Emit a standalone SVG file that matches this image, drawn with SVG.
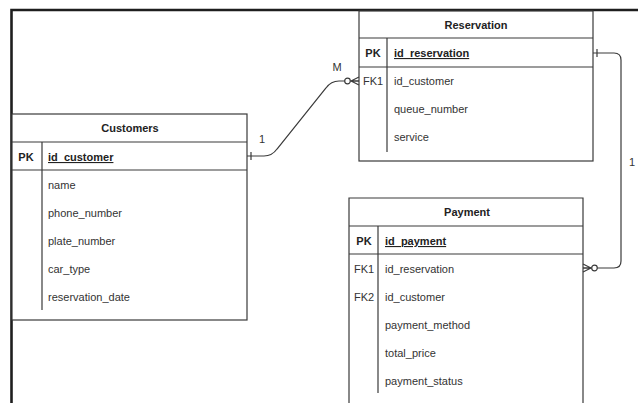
<svg xmlns="http://www.w3.org/2000/svg" width="638" height="403" viewBox="0 0 638 403">
  <style>
    .box { fill: #ffffff; stroke: #3a3a3a; stroke-width: 1.2; }
    .rule { stroke: #3a3a3a; stroke-width: 1.2; fill: none; }
    .frame { stroke: #1e1e1e; stroke-width: 2.6; fill: none; }
    .title { font-family: "Liberation Sans", Arial, sans-serif; font-size: 11px; font-weight: bold; fill: #222; text-anchor: middle; }
    .key { font-family: "Liberation Sans", Arial, sans-serif; font-size: 11px; font-weight: bold; fill: #222; text-anchor: middle; }
    .fk { font-family: "Liberation Sans", Arial, sans-serif; font-size: 11px; fill: #333; text-anchor: middle; }
    .pk { font-family: "Liberation Sans", Arial, sans-serif; font-size: 11px; font-weight: bold; fill: #222; text-decoration: underline; }
    .attr { font-family: "Liberation Sans", Arial, sans-serif; font-size: 11px; fill: #333; }
    .card { font-family: "Liberation Sans", Arial, sans-serif; font-size: 11px; fill: #333; text-anchor: middle; }
    .edge { fill: none; stroke: #3a3a3a; stroke-width: 1.2; }
  </style>
  <defs>
    <!-- "exactly one" tick, placed just outside the entity -->
    <marker id="one" markerUnits="userSpaceOnUse" markerWidth="20" markerHeight="20" viewBox="-10 -10 20 20" refX="0" refY="0" orient="auto" overflow="visible">
      <path d="M4,-4 L4,4" stroke="#3a3a3a" stroke-width="1.2" fill="none"/>
    </marker>
    <!-- "zero or many": circle plus crow's foot touching the entity -->
    <marker id="zeroMany" markerUnits="userSpaceOnUse" markerWidth="30" markerHeight="20" viewBox="-20 -10 30 20" refX="0" refY="0" orient="auto" overflow="visible">
      <path d="M-8,0 L0,-4 M-8,0 L0,0 M-8,0 L0,4" stroke="#3a3a3a" stroke-width="1.2" fill="none"/>
      <circle cx="-11.5" cy="0" r="2.8" fill="#ffffff" stroke="#3a3a3a" stroke-width="1.2"/>
    </marker>
  </defs>

  <rect x="0" y="0" width="638" height="403" fill="#ffffff"/>

  <!-- page frame -->
  <path class="frame" d="M11.5,403 L11.5,10 L638,10"/>

  <!-- Customers table -->
  <g id="customers">
    <rect class="box" x="12" y="114" width="235" height="206"/>
    <line class="rule" x1="12" y1="142" x2="247" y2="142"/>
    <line class="rule" x1="12" y1="170" x2="247" y2="170"/>
    <line class="rule" x1="42" y1="142" x2="42" y2="310"/>
    <text class="title" x="130" y="132">Customers</text>
    <text class="key" x="26" y="161">PK</text>
    <text class="pk" x="48" y="161">id_customer</text>
    <text class="attr" x="48" y="189">name</text>
    <text class="attr" x="48" y="217">phone_number</text>
    <text class="attr" x="48" y="245">plate_number</text>
    <text class="attr" x="48" y="273">car_type</text>
    <text class="attr" x="48" y="301">reservation_date</text>
  </g>

  <!-- Reservation table -->
  <g id="reservation">
    <rect class="box" x="359" y="11" width="234" height="150"/>
    <line class="rule" x1="359" y1="38" x2="593" y2="38"/>
    <line class="rule" x1="359" y1="67" x2="593" y2="67"/>
    <line class="rule" x1="387" y1="38" x2="387" y2="152"/>
    <text class="title" x="476" y="29">Reservation</text>
    <text class="key" x="373" y="57">PK</text>
    <text class="pk" x="394" y="57">id_reservation</text>
    <text class="fk" x="373" y="85">FK1</text>
    <text class="attr" x="394" y="85">id_customer</text>
    <text class="attr" x="394" y="113">queue_number</text>
    <text class="attr" x="394" y="141">service</text>
  </g>

  <!-- Payment table (continues below the page edge) -->
  <g id="payment">
    <path class="box" d="M349,403 L349,198 L583,198 L583,403"/>
    <line class="rule" x1="349" y1="226" x2="583" y2="226"/>
    <line class="rule" x1="349" y1="254" x2="583" y2="254"/>
    <line class="rule" x1="378" y1="226" x2="378" y2="393"/>
    <text class="title" x="467" y="216">Payment</text>
    <text class="key" x="364" y="245">PK</text>
    <text class="pk" x="385" y="245">id_payment</text>
    <text class="fk" x="364" y="273">FK1</text>
    <text class="attr" x="385" y="273">id_reservation</text>
    <text class="fk" x="364" y="301">FK2</text>
    <text class="attr" x="385" y="301">id_customer</text>
    <text class="attr" x="385" y="329">payment_method</text>
    <text class="attr" x="385" y="357">total_price</text>
    <text class="attr" x="385" y="385">payment_status</text>
  </g>

  <!-- relationships -->
  <g id="connectors">
    <path class="edge" d="M247,156 L264,156 Q272,156 277,149 L326,88 Q331,81 339,81 L359,81" marker-start="url(#one)" marker-end="url(#zeroMany)"/>
    <text class="card" x="262" y="143">1</text>
    <text class="card" x="337" y="71">M</text>

    <path class="edge" d="M593,53 L614,53 Q621,53 621,60 L621,261 Q621,268 614,268 L583,268" marker-start="url(#one)" marker-end="url(#zeroMany)"/>
    <text class="card" x="632" y="166">1</text>
  </g>
</svg>
